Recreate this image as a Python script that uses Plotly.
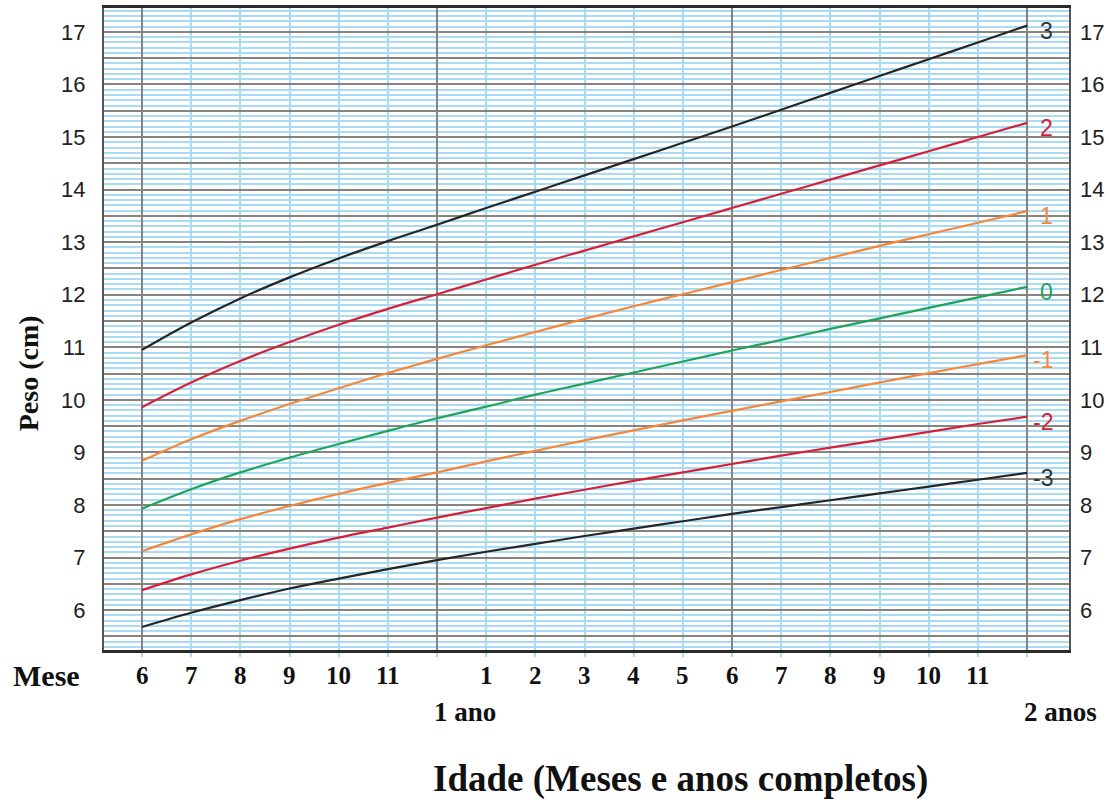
import plotly.graph_objects as go

# ---- data (weight-for-age z-score curves, kg) ----
months = [6, 7, 8, 9, 10, 11, 12, 13, 14, 15, 16, 17, 18, 19, 20, 21, 22, 23, 24]
sd_pos3 = [10.95, 11.47, 11.93, 12.33, 12.69, 13.02, 13.33, 13.65, 13.96, 14.27, 14.58, 14.89, 15.20, 15.52, 15.84, 16.16, 16.48, 16.80, 17.12]
sd_pos2 = [9.86, 10.33, 10.74, 11.10, 11.43, 11.73, 12.01, 12.29, 12.57, 12.84, 13.11, 13.38, 13.65, 13.92, 14.19, 14.46, 14.73, 15.00, 15.27]
sd_pos1 = [8.84, 9.25, 9.60, 9.92, 10.22, 10.51, 10.78, 11.04, 11.29, 11.54, 11.78, 12.01, 12.24, 12.47, 12.70, 12.93, 13.15, 13.37, 13.59]
sd_0 = [7.93, 8.30, 8.62, 8.90, 9.16, 9.41, 9.65, 9.87, 10.10, 10.31, 10.52, 10.73, 10.94, 11.14, 11.35, 11.55, 11.75, 11.95, 12.15]
sd_neg1 = [7.12, 7.44, 7.73, 7.98, 8.21, 8.42, 8.62, 8.83, 9.03, 9.23, 9.42, 9.61, 9.79, 9.97, 10.15, 10.33, 10.51, 10.68, 10.85]
sd_neg2 = [6.38, 6.68, 6.94, 7.17, 7.38, 7.57, 7.76, 7.94, 8.12, 8.29, 8.46, 8.62, 8.78, 8.94, 9.09, 9.24, 9.39, 9.54, 9.68]
sd_neg3 = [5.68, 5.95, 6.19, 6.41, 6.60, 6.78, 6.95, 7.11, 7.26, 7.41, 7.55, 7.69, 7.83, 7.96, 8.09, 8.22, 8.35, 8.48, 8.61]

series_names = ["3", "2", "1", "0", "-1", "-2", "-3"]
series_values = [sd_pos3, sd_pos2, sd_pos1, sd_0, sd_neg1, sd_neg2, sd_neg3]
series_colors = ["#262626", "#d3213a", "#f5873a", "#1ea55b", "#f5873a", "#d3213a", "#262626"]
label_colors = ["#333333", "#d3213a", "#f5873a", "#1ea55b", "#f5873a", "#d3213a", "#333333"]

month_tick_pos = [6, 7, 8, 9, 10, 11, 13, 14, 15, 16, 17, 18, 19, 20, 21, 22, 23]
month_tick_text = ["6", "7", "8", "9", "10", "11", "1", "2", "3", "4", "5", "6", "7", "8", "9", "10", "11"]
year_pos = [12, 24]
year_text = ["1 ano", "2 anos"]
major_months = [6, 12, 18, 24]

y_tickvals = [5.5 + 0.5 * i for i in range(24)]
y_ticktext = [str(int(v)) if v == int(v) else "" for v in y_tickvals]

BLUE = "#a9dcf3"
DARK = "#868480"
SERIF = "Liberation Serif"

fig = go.Figure()
for name, vals, col in zip(series_names, series_values, series_colors):
    fig.add_trace(go.Scatter(x=months, y=vals, mode="lines", name=name,
                             line=dict(color=col, width=2.2, shape="spline", smoothing=1.0),
                             showlegend=False, hoverinfo="skip"))
# dummy trace for right axis
fig.add_trace(go.Scatter(x=[None], y=[None], yaxis="y2", showlegend=False, hoverinfo="skip"))

ann = []
for p, t in zip(month_tick_pos, month_tick_text):
    ann.append(dict(x=p, xref="x", y=-0.039, yref="paper", text=t, showarrow=False,
                    xanchor="center", yanchor="middle",
                    font=dict(family=SERIF, size=25, color="#111", weight="bold")))
for p, t in zip(year_pos, year_text):
    ann.append(dict(x=p, xref="x", y=-0.096, yref="paper", text=t, showarrow=False,
                    xanchor="left", xshift=-5, yanchor="middle",
                    font=dict(family=SERIF, size=27, color="#111", weight="bold")))
ann.append(dict(x=-0.06, xref="paper", y=-0.039, yref="paper", text="Mese", showarrow=False,
                xanchor="center", yanchor="middle",
                font=dict(family=SERIF, size=30, color="#111", weight="bold")))
ann.append(dict(x=-0.0788, xref="paper", y=0.431, yref="paper", text="Peso (cm)", showarrow=False,
                textangle=-90, xanchor="center", yanchor="middle",
                font=dict(family=SERIF, size=28, color="#111", weight="bold")))
ann.append(dict(x=0.597, xref="paper", y=-0.2016, yref="paper", text="Idade (Meses e anos completos)",
                showarrow=False, xanchor="center", yanchor="middle",
                font=dict(family=SERIF, size=37, color="#111", weight="bold")))
for name, vals, col in zip(series_names, series_values, label_colors):
    ann.append(dict(x=months[-1], xref="x", y=vals[-1], yref="y", text=name, showarrow=False,
                    xanchor="right", xshift=28, yshift=-5, yanchor="middle",
                    font=dict(family="Liberation Sans", size=23, color=col)))

fig.update_layout(
    width=1109, height=806,
    margin=dict(l=104, r=40, t=5, b=156),
    plot_bgcolor="white", paper_bgcolor="white",
    annotations=ann,
    xaxis=dict(range=[5.227, 24.854], tickmode="array", tickvals=major_months,
               showticklabels=False, ticks="",
               showgrid=True, gridcolor=DARK, gridwidth=2, zeroline=False,
               showline=True, linecolor="#2b2b2b", linewidth=3, mirror=True,
               minor=dict(tick0=0, dtick=1, showgrid=True, gridcolor=BLUE, gridwidth=2,
                          ticks="outside", ticklen=4, tickcolor=BLUE, tickwidth=2)),
    yaxis=dict(range=[5.241, 17.455], tickmode="array", tickvals=y_tickvals, ticktext=y_ticktext,
               ticks="", ticklabelstandoff=12,
               tickfont=dict(family="Liberation Sans", size=22, color="#222222"),
               showgrid=True, gridcolor=DARK, gridwidth=2, zeroline=False,
               showline=True, linecolor="#555555", linewidth=2, mirror=True,
               minor=dict(tick0=0, dtick=0.1, showgrid=True, gridcolor=BLUE, gridwidth=1.5)),
    yaxis2=dict(overlaying="y", side="right", matches="y", tickmode="array",
                tickvals=y_tickvals, ticktext=y_ticktext, ticks="", ticklabelstandoff=10,
                tickfont=dict(family="Liberation Sans", size=22, color="#222222"),
                showgrid=False, zeroline=False, showline=False),
)

fig.write_html("out.html", config={"displayModeBar": False},
               post_script="document.body.style.margin='0';")
